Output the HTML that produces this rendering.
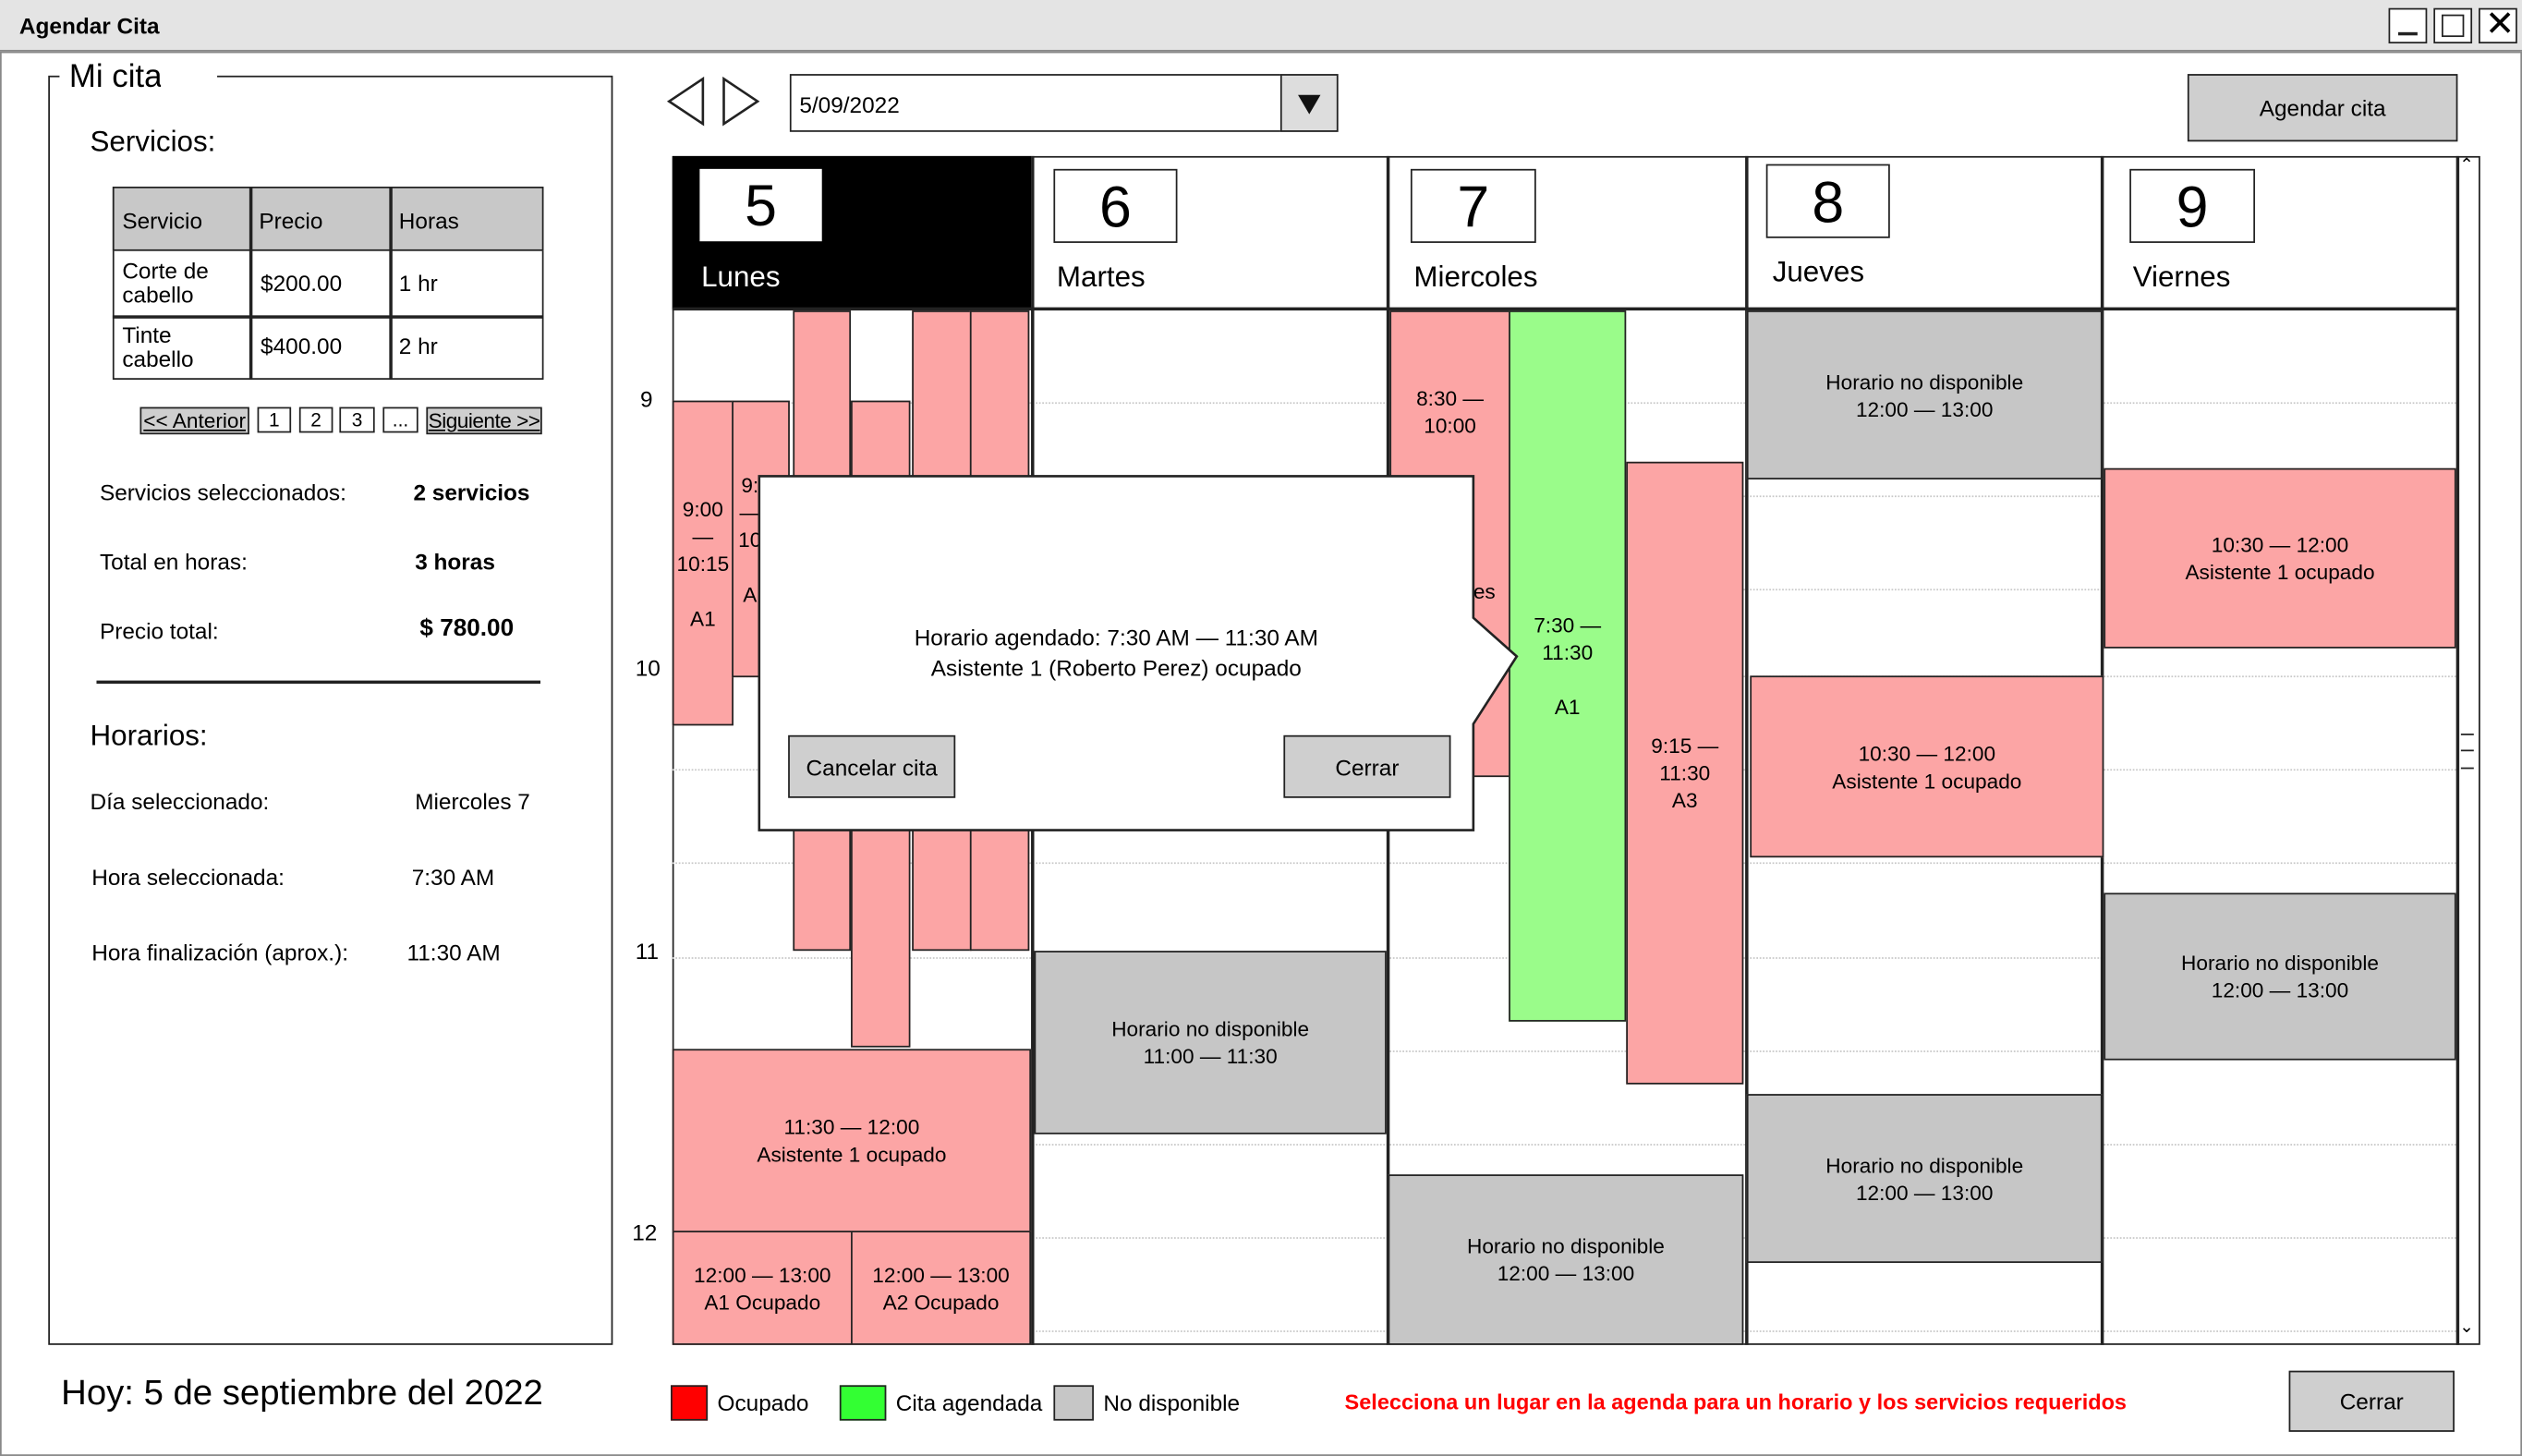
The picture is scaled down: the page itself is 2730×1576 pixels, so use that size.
<!DOCTYPE html>
<html><head><meta charset="utf-8"><style>
html,body{margin:0;padding:0;background:#fff;width:2730px;height:1576px;overflow:hidden}
#w{position:absolute;left:0;top:0;width:1568px;height:905px;transform:scale(1.7411,1.7414);transform-origin:0 0;font-family:"Liberation Sans",sans-serif;color:#000}
.a{position:absolute;box-sizing:border-box}
.t{position:absolute;white-space:nowrap;font-size:14px}
.r{background:#fca5a5;border:1.5px solid #222}
.g{background:#c6c6c6;border:1.5px solid #222}
.gr{background:#9afc8a;border:1.5px solid #222}
.c{display:flex;align-items:center;justify-content:center;text-align:center;font-size:13px;line-height:17px}
.btn{background:#cfcfcf;border:1.5px solid #222;display:flex;align-items:center;justify-content:center;font-size:14px}
.hl{position:absolute;left:418px;width:1109px;height:0;border-top:1px dotted #c8c8c8}
</style></head><body><div id="w">
<!-- title bar -->
<div class="a" style="left:0;top:0;width:1568px;height:32px;background:#e4e4e4;border-bottom:1px solid #888"></div>
<div class="t" style="left:12px;top:8px;font-weight:bold;font-size:14px">Agendar Cita</div>
<div class="a" style="left:1485px;top:5px;width:24px;height:22px;border:1.5px solid #222;background:#fff"></div>
<div class="a" style="left:1491px;top:20px;width:12px;height:2px;background:#222"></div>
<div class="a" style="left:1513px;top:5px;width:24px;height:22px;border:1.5px solid #222;background:#fff"></div>
<div class="a" style="left:1518px;top:9px;width:14px;height:14px;border:1.5px solid #222"></div>
<div class="a" style="left:1541px;top:5px;width:24px;height:22px;border:1.5px solid #222;background:#fff"></div>
<div class="t" style="left:1545px;top:2px;font-size:22px">✕</div>
<div class="a" style="left:0;top:32px;width:1568px;height:873px;border:1px solid #888"></div>

<!-- left panel -->
<div class="a" style="left:30px;top:47px;width:351px;height:789px;border:1.5px solid #222"></div>
<div class="t" style="left:37px;top:37px;font-size:20px;background:#fff;padding:0 6px">Mi cita</div>
<div class="a" style="left:100px;top:40px;width:35px;height:14px;background:#fff"></div>
<div class="t" style="left:56px;top:78px;font-size:18px">Servicios:</div>
<div class="a" style="left:70px;top:116px;width:268px;height:120px;border:1.5px solid #222"></div>
<div class="a" style="left:70px;top:116px;width:268px;height:40px;background:#c8c8c8;border:1.5px solid #222"></div>
<div class="a" style="left:155px;top:116px;width:1.5px;height:120px;background:#222"></div>
<div class="a" style="left:242px;top:116px;width:1.5px;height:120px;background:#222"></div>
<div class="a" style="left:70px;top:196px;width:268px;height:1.5px;background:#222"></div>
<div class="t" style="left:76px;top:129px">Servicio</div><div class="t" style="left:161px;top:129px">Precio</div><div class="t" style="left:248px;top:129px">Horas</div>
<div class="t" style="left:76px;top:161px;line-height:15px">Corte de<br>cabello</div><div class="t" style="left:162px;top:168px">$200.00</div><div class="t" style="left:248px;top:168px">1 hr</div>
<div class="t" style="left:76px;top:201px;line-height:15px">Tinte<br>cabello</div><div class="t" style="left:162px;top:207px">$400.00</div><div class="t" style="left:248px;top:207px">2 hr</div>
<div class="a btn" style="left:87px;top:253px;width:68px;height:17px;font-size:13px;text-decoration:underline;white-space:nowrap">&lt;&lt; Anterior</div>
<div class="a" style="left:160px;top:253px;width:21px;height:16px;border:1px solid #222;font-size:12px;text-align:center">1</div>
<div class="a" style="left:186px;top:253px;width:21px;height:16px;border:1px solid #222;font-size:12px;text-align:center">2</div>
<div class="a" style="left:211px;top:253px;width:22px;height:16px;border:1px solid #222;font-size:12px;text-align:center">3</div>
<div class="a" style="left:238px;top:253px;width:22px;height:16px;border:1px solid #222;font-size:12px;text-align:center">...</div>
<div class="a btn" style="left:265px;top:253px;width:72px;height:17px;font-size:13px;text-decoration:underline;white-space:nowrap;letter-spacing:-0.3px">Siguiente &gt;&gt;</div>
<div class="t" style="left:62px;top:298px">Servicios seleccionados:</div><div class="t" style="left:257px;top:298px;font-weight:bold">2 servicios</div>
<div class="t" style="left:62px;top:341px">Total en horas:</div><div class="t" style="left:258px;top:341px;font-weight:bold">3 horas</div>
<div class="t" style="left:62px;top:384px">Precio total:</div><div class="t" style="left:261px;top:382px;font-weight:bold;font-size:15px">$ 780.00</div>
<div class="a" style="left:60px;top:423px;width:276px;height:1.5px;background:#222"></div>
<div class="t" style="left:56px;top:447px;font-size:18px">Horarios:</div>
<div class="t" style="left:56px;top:490px">Día seleccionado:</div><div class="t" style="left:258px;top:490px">Miercoles 7</div>
<div class="t" style="left:57px;top:537px">Hora seleccionada:</div><div class="t" style="left:256px;top:537px">7:30 AM</div>
<div class="t" style="left:57px;top:584px">Hora finalización (aprox.):</div><div class="t" style="left:253px;top:584px">11:30 AM</div>
<div class="t" style="left:38px;top:853px;font-size:22px">Hoy: 5 de septiembre del 2022</div>

<!-- top controls -->
<svg class="a" style="left:412px;top:46px" width="64" height="34"><polygon points="25,3 25,31 4,17" fill="#fff" stroke="#222" stroke-width="1.5"/><polygon points="38,3 38,31 59,17" fill="#fff" stroke="#222" stroke-width="1.5"/></svg>
<div class="a" style="left:491px;top:46px;width:341px;height:36px;border:1.5px solid #222"></div>
<div class="t" style="left:497px;top:57px">5/09/2022</div>
<div class="a" style="left:796px;top:46px;width:36px;height:36px;border:1.5px solid #222;background:#ddd"></div>
<svg class="a" style="left:806px;top:58px" width="16" height="14"><polygon points="1,1 15,1 8,13" fill="#111"/></svg>
<div class="a btn" style="left:1360px;top:46px;width:168px;height:42px">Agendar cita</div>

<!-- calendar -->
<div class="a" style="left:418px;top:97px;width:1124px;height:739px;border:1.5px solid #222"></div>
<div class="hl" style="top:250px"></div><div class="hl" style="top:308px"></div><div class="hl" style="top:366px"></div>
<div class="hl" style="top:420px"></div><div class="hl" style="top:478px"></div><div class="hl" style="top:536px"></div>
<div class="hl" style="top:595px"></div><div class="hl" style="top:653px"></div><div class="hl" style="top:711px"></div>
<div class="hl" style="top:769px"></div><div class="hl" style="top:827px"></div>
<div class="a" style="left:1527px;top:97px;width:1.5px;height:739px;background:#222"></div>
<div class="t" style="left:1529px;top:96px;font-size:11px">⌃</div>
<div class="t" style="left:1529px;top:818px;font-size:11px">⌄</div>
<div class="a" style="left:1530px;top:456px;width:8px;height:1px;background:#222;box-shadow:0 10px 0 #222,0 21px 0 #222"></div>
<div class="a" style="left:418px;top:97px;width:223px;height:95px;background:#000"></div>
<div class="a" style="left:418px;top:191px;width:1109px;height:1.5px;background:#222"></div>
<div class="a" style="left:641px;top:97px;width:1.5px;height:739px;background:#222"></div>
<div class="a" style="left:862px;top:97px;width:1.5px;height:739px;background:#222"></div>
<div class="a" style="left:1085px;top:97px;width:1.5px;height:739px;background:#222"></div>
<div class="a" style="left:1306px;top:97px;width:1.5px;height:739px;background:#222"></div>
<div class="a" style="left:435px;top:105px;width:76px;height:45px;background:#fff;font-size:36px;text-align:center;line-height:46px">5</div>
<div class="t" style="left:436px;top:162px;font-size:18px;color:#fff">Lunes</div>
<div class="a" style="left:655px;top:105px;width:77px;height:46px;border:1.5px solid #222;font-size:36px;text-align:center;line-height:46px">6</div>
<div class="t" style="left:657px;top:162px;font-size:18px">Martes</div>
<div class="a" style="left:877px;top:105px;width:78px;height:46px;border:1.5px solid #222;font-size:36px;text-align:center;line-height:46px">7</div>
<div class="t" style="left:879px;top:162px;font-size:18px">Miercoles</div>
<div class="a" style="left:1098px;top:102px;width:77px;height:46px;border:1.5px solid #222;font-size:36px;text-align:center;line-height:46px">8</div>
<div class="t" style="left:1102px;top:159px;font-size:18px">Jueves</div>
<div class="a" style="left:1324px;top:105px;width:78px;height:46px;border:1.5px solid #222;font-size:36px;text-align:center;line-height:46px">9</div>
<div class="t" style="left:1326px;top:162px;font-size:18px">Viernes</div>
<div class="t" style="left:398px;top:240px">9</div>
<div class="t" style="left:395px;top:407px">10</div>
<div class="t" style="left:395px;top:583px">11</div>
<div class="t" style="left:393px;top:758px">12</div>

<!-- Lunes blocks -->
<div class="a r c" style="left:418px;top:249px;width:38px;height:202px;line-height:17px">9:00<br>—<br>10:15<br><br>A1</div>
<div class="a r c" style="left:455px;top:249px;width:36px;height:172px;justify-content:flex-start;padding-left:3px">9:<br>—<br>10<br><br>A</div>
<div class="a r" style="left:493px;top:193px;width:36px;height:398px"></div>
<div class="a r" style="left:529px;top:249px;width:37px;height:402px"></div>
<div class="a r" style="left:567px;top:193px;width:37px;height:398px"></div>
<div class="a r" style="left:603px;top:193px;width:37px;height:398px"></div>
<div class="a r c" style="left:418px;top:652px;width:223px;height:114px">11:30 — 12:00<br>Asistente 1 ocupado</div>
<div class="a r c" style="left:418px;top:765px;width:112px;height:71px">12:00 — 13:00<br>A1 Ocupado</div>
<div class="a r c" style="left:529px;top:765px;width:112px;height:71px">12:00 — 13:00<br>A2 Ocupado</div>
<!-- Martes -->
<div class="a g c" style="left:643px;top:591px;width:219px;height:114px">Horario no disponible<br>11:00 — 11:30</div>
<!-- Miercoles -->
<div class="a r c" style="left:864px;top:193px;width:75px;height:290px;align-items:flex-start;padding-top:45px">8:30 —<br>10:00</div>
<div class="t" style="left:916px;top:360px;font-size:13px">es</div>
<div class="a gr c" style="left:938px;top:193px;width:73px;height:442px">7:30 —<br>11:30<br><br>A1</div>
<div class="a r c" style="left:1011px;top:287px;width:73px;height:387px">9:15 —<br>11:30<br>A3</div>
<div class="a g c" style="left:863px;top:730px;width:221px;height:106px">Horario no disponible<br>12:00 — 13:00</div>
<!-- Jueves -->
<div class="a g c" style="left:1086px;top:193px;width:221px;height:105px">Horario no disponible<br>12:00 — 13:00</div>
<div class="a r c" style="left:1088px;top:420px;width:220px;height:113px">10:30 — 12:00<br>Asistente 1 ocupado</div>
<div class="a g c" style="left:1086px;top:680px;width:221px;height:105px">Horario no disponible<br>12:00 — 13:00</div>
<!-- Viernes -->
<div class="a r c" style="left:1308px;top:291px;width:219px;height:112px">10:30 — 12:00<br>Asistente 1 ocupado</div>
<div class="a g c" style="left:1308px;top:555px;width:219px;height:104px">Horario no disponible<br>12:00 — 13:00</div>

<!-- popup -->
<svg class="a" style="left:470px;top:294px" width="480" height="226"><polygon points="2,2 446,2 446,90 473,114 446,156 446,222 2,222" fill="#fff" stroke="#222" stroke-width="1.5"/></svg>
<div class="a c" style="left:472px;top:386px;width:444px;height:40px;font-size:14px;line-height:19px">Horario agendado: 7:30 AM — 11:30 AM<br>Asistente 1 (Roberto Perez) ocupado</div>
<div class="a btn" style="left:490px;top:457px;width:104px;height:39px">Cancelar cita</div>
<div class="a btn" style="left:798px;top:457px;width:104px;height:39px">Cerrar</div>

<!-- legend -->
<div class="a" style="left:417px;top:861px;width:23px;height:22px;background:#f00;border:1.5px solid #222"></div>
<div class="t" style="left:446px;top:864px">Ocupado</div>
<div class="a" style="left:522px;top:861px;width:29px;height:22px;background:#33ff33;border:1.5px solid #222"></div>
<div class="t" style="left:557px;top:864px">Cita agendada</div>
<div class="a" style="left:655px;top:861px;width:25px;height:22px;background:#c6c6c6;border:1.5px solid #222"></div>
<div class="t" style="left:686px;top:864px">No disponible</div>
<div class="t" style="left:836px;top:864px;color:#f00;font-weight:bold;font-size:13.5px">Selecciona un lugar en la agenda para un horario y los servicios requeridos</div>
<div class="a btn" style="left:1423px;top:852px;width:103px;height:38px">Cerrar</div>
</div></body></html>
